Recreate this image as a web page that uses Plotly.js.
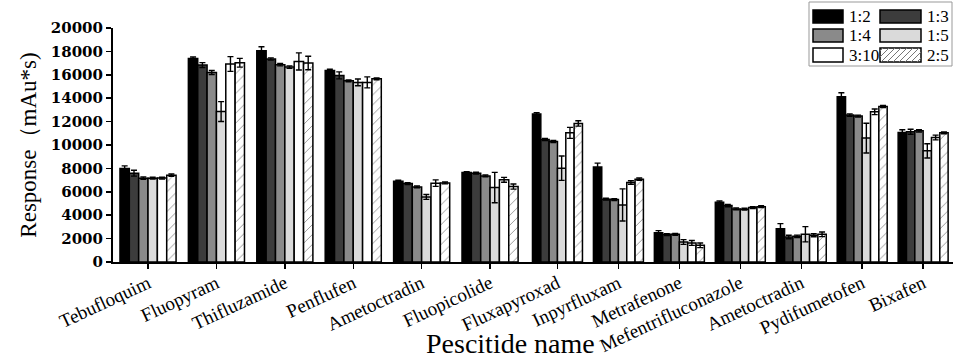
<!DOCTYPE html>
<html><head><meta charset="utf-8">
<script src="https://cdn.plot.ly/plotly-3.0.1.min.js"></script>
<style>html,body{margin:0;padding:0;background:#fff}#chart{width:954px;height:358px}</style>
</head><body><div id="chart"></div>
<script>
// ---- data ----
const pesticides = ["Tebufloquim","Fluopyram","Thifluzamide","Penflufen","Ametoctradin","Fluopicolide",
  "Fluxapyroxad","Inpyrfluxam","Metrafenone","Mefentrifluconazole","Ametoctradin","Pydifumetofen","Bixafen"];
const ratioNames = ["1:2","1:3","1:4","1:5","3:10","2:5"];
const r12  = [7990,17400,18060,16370,6910,7640, 12640,8130,2510,5110,2850,14120,11070];
const r13  = [7590,16830,17350,15950,6700,7590, 10470,5370,2340,4820,2140,12560,11130];
const r14  = [7160,16200,16860,15490,6420,7360, 10300,5340,2370,4540,2200,12470,11210];
const r15  = [7160,12860,16660,15350,5560,6360, 8020,4880,1710,4510,2370,10590,9500];
const r310 = [7170,16920,17140,15350,6740,7020, 11040,6790,1630,4650,2290,12840,10640];
const r25  = [7420,17030,17010,15660,6760,6450, 11840,7080,1430,4730,2370,13290,11040];
const e12  = [230,120,340,100,80,80, 120,320,170,100,430,340,230];
const e13  = [250,210,100,300,80,80, 80,80,80,100,150,100,210];
const e14  = [100,170,100,80,80,80, 80,80,80,80,100,80,100];
const e15  = [80,850,100,285,210,1300, 1040,1370,200,80,650,1270,610];
const e310 = [80,630,730,470,280,210, 470,150,210,80,130,240,200];
const e25  = [100,370,580,80,80,220, 230,100,200,80,200,80,80];
const yTicks = [0,2000,4000,6000,8000,10000,12000,14000,16000,18000,20000];
const yTickText = ["0","2000","4000","6000","8000","10000","12000","14000","16000","18000","20000"];

// ---- styling ----
const splitAt = 6; // the figure is made of two panels sharing one y axis
const series = [r12,r13,r14,r15,r310,r25];
const errs = [e12,e13,e14,e15,e310,e25];
const fills = ["#000000","#3c3c3c","#8a8a8a","#dadada","#ffffff","#ffffff"];
const patterns = [null,null,null,null,null,{shape:"/",fgcolor:"#8a8a8a",bgcolor:"#ffffff",size:7,solidity:0.12}];

const traces = [];
series.forEach((vals,k)=>{
  [[0,splitAt,"x"],[splitAt,pesticides.length,"x2"]].forEach(([a,b,xa])=>{
    const m = {color:fills[k], line:{color:"#000",width:1.5}};
    if(patterns[k]) m.pattern = patterns[k];
    traces.push({
      type:"bar", name:ratioNames[k], x:pesticides.slice(a,b), y:vals.slice(a,b),
      xaxis:xa, yaxis:"y", marker:m, showlegend:false,
      error_y:{type:"data",array:errs[k].slice(a,b),visible:true,color:"#000",thickness:1.4,width:3}
    });
  });
});

const L=113,R=953,T=28,B=262;
const px = x=>(x-L)/(R-L);
const py = y=>(B-y)/(B-T);

const shapes=[], annotations=[];
// legend frame
shapes.push({type:"rect",xref:"paper",yref:"paper",x0:px(809),x1:px(952),y0:py(66),y1:py(2),line:{color:"#999",width:1},fillcolor:"#fff",layer:"above"});
const cols=[[813,843,847],[880,921,925]];
const rows=[[10,23],[29,42],[48,62]];
ratioNames.forEach((nm,k)=>{
  const c=cols[k%2], r=rows[Math.floor(k/2)];
  shapes.push({type:"rect",xref:"paper",yref:"paper",x0:px(c[0]),x1:px(c[1]),y0:py(r[1]),y1:py(r[0]),
    fillcolor:fills[k],line:{color:"#000",width:1.5},layer:"above"});
  if(patterns[k]){
    const x0=c[0],x1=c[1],y0=r[0],y1=r[1],h=y1-y0;
    for(let s=x0-h+3;s<x1;s+=6){
      let ax=s, ay=y1, bx=s+h, by=y0;
      if(ax<x0){ay=y1-(x0-ax);ax=x0;}
      if(bx>x1){by=y0+(bx-x1);bx=x1;}
      if(bx<=ax) continue;
      shapes.push({type:"line",xref:"paper",yref:"paper",x0:px(ax),y0:py(ay),x1:px(bx),y1:py(by),line:{color:"#777",width:1},layer:"above"});
    }
  }
  annotations.push({xref:"paper",yref:"paper",x:px(c[2]),y:py((r[0]+r[1])/2),xanchor:"left",yanchor:"middle",
    text:nm,showarrow:false,font:{family:"Liberation Serif",size:17,color:"#000"}});
});
annotations.push({xref:"paper",yref:"paper",x:px(510),y:py(343),xanchor:"center",yanchor:"middle",
  text:"Pescitide name",showarrow:false,font:{family:"Liberation Serif",size:28,color:"#000"}});

const xcommon = {type:"category",showline:true,linecolor:"#000",linewidth:2,ticks:"outside",ticklen:5,tickwidth:1.5,tickcolor:"#000",
  showgrid:false,zeroline:false,tickangle:-25,ticklabelstandoff:-4,tickfont:{family:"Liberation Serif",size:19,color:"#000"},fixedrange:true};

const layout = {
  width:954,height:358,margin:{l:L,r:954-R,t:T,b:358-B},
  paper_bgcolor:"#fff",plot_bgcolor:"#fff",
  barmode:"group",bargap:0.18,bargroupgap:0,showlegend:false,
  xaxis:Object.assign({},xcommon,{domain:[0,px(527)],range:[-0.512,5.54],anchor:"y"}),
  xaxis2:Object.assign({},xcommon,{domain:[px(527),1],range:[-0.5,6.49],anchor:"y"}),
  yaxis:{range:[0,20000],tickvals:yTicks,ticktext:yTickText,showline:true,linecolor:"#000",linewidth:2,ticks:"outside",ticklen:5,tickwidth:1.5,tickcolor:"#000",
    showgrid:false,zeroline:false,tickfont:{family:"DejaVu Serif",size:15,color:"#000",weight:"bold"},
    title:{text:"Response（mAu*s)",font:{family:"Liberation Serif",size:23,color:"#000"},standoff:8}},
  shapes:shapes, annotations:annotations
};
Plotly.newPlot("chart",traces,layout,{displayModeBar:false,staticPlot:true});
</script></body></html>
